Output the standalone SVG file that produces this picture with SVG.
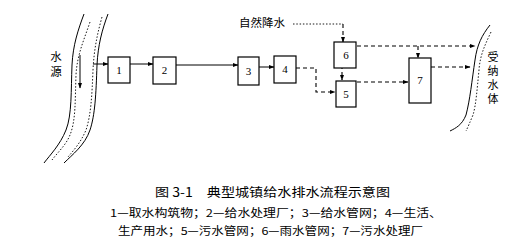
<svg xmlns="http://www.w3.org/2000/svg" width="532" height="247" viewBox="0 0 532 247">
<style>
.box{fill:#fff;stroke:#000;stroke-width:1.2}
.num{font-family:"Liberation Serif",serif;font-size:11px;fill:#000;text-anchor:middle}
.cjk{font-family:"Noto Sans CJK SC","Noto Sans",sans-serif;fill:#000}
.solid{fill:none;stroke:#000;stroke-width:1}
.dash{fill:none;stroke:#000;stroke-width:1.1;stroke-dasharray:4,3}
.dot{fill:none;stroke:#000;stroke-width:0.9;stroke-dasharray:1.5,1.8}
.river{fill:none;stroke:#000;stroke-width:1}
</style>
<defs>
<marker id="ah" markerWidth="6" markerHeight="6" refX="5.5" refY="3" orient="auto" markerUnits="userSpaceOnUse">
<path d="M0,0.8 L6,3 L0,5.2 Z" fill="#000"/>
</marker>
</defs>
<rect width="532" height="247" fill="#fff"/>
<g id="river-source">
<path class="river" d="M84,14 C78,30 73,45 72,65 C71,90 72,115 66,130 C60,145 50,155 44,163"/>
<path class="dot" d="M90,22 C84,40 77,55 76,75 C75,100 76,120 70,135 C66,145 58,152 52,160"/>
<path class="dot" d="M102,17 C97,35 94,50 93,70 C92,95 91,115 86,130 C81,142 74,150 68,157"/>
<path class="river" d="M108,14 C102,30 98,45 97,65 C96,95 95,115 90,130 C85,145 72,155 64,163"/>
<line class="solid" x1="80" y1="55" x2="80" y2="88" marker-end="url(#ah)"/>
<text class="cjk" x="56" y="61" font-size="11.5" text-anchor="middle">水</text>
<text class="cjk" x="56" y="76" font-size="11.5" text-anchor="middle">源</text>
</g>
<g id="river-receiving">
<path class="river" d="M490,25 C482,35 477,45 475,60 C472,80 470,100 466,115 C462,125 456,128 450,131"/>
<path class="dot" d="M491,32 C485,45 480,55 479,70 C477,90 476,105 473,115 C470,122 468,127 466,131"/>
<text class="cjk" x="493" y="51" font-size="11" style="writing-mode:vertical-rl" letter-spacing="3">受纳水体</text>
</g>
<g id="connectors">
<line class="solid" x1="93" y1="64" x2="108" y2="64" marker-end="url(#ah)"/>
<line class="solid" x1="130" y1="64" x2="153" y2="64" marker-end="url(#ah)"/>
<line class="solid" x1="176" y1="65" x2="238" y2="65" marker-end="url(#ah)"/>
<line class="solid" x1="259" y1="67" x2="274" y2="67" marker-end="url(#ah)"/>
<polyline class="dash" points="296,68 316,68 316,92 335,92" marker-end="url(#ah)"/>
<polyline class="dot" points="293,24 343,24"/>
<polyline class="dash" points="343,24 343,42" marker-end="url(#ah)"/>
<line class="dash" x1="342" y1="58" x2="342" y2="80" marker-end="url(#ah)"/>
<line class="dash" x1="357" y1="46" x2="475" y2="46" marker-end="url(#ah)"/>
<line class="dash" x1="418" y1="46" x2="418" y2="58" marker-end="url(#ah)"/>
<line class="dash" x1="357" y1="82" x2="408" y2="82" marker-end="url(#ah)"/>
<line class="dash" x1="431" y1="67" x2="470" y2="67" marker-end="url(#ah)"/>
</g>
<g id="node1"><rect class="box" x="108" y="57" width="22" height="26"/><text class="num" x="119" y="74">1</text></g>
<g id="node2"><rect class="box" x="153" y="57" width="23" height="27"/><text class="num" x="164.5" y="74">2</text></g>
<g id="node3"><rect class="box" x="238" y="57" width="21" height="28"/><text class="num" x="248.5" y="75">3</text></g>
<g id="node4"><rect class="box" x="274" y="56" width="22" height="27"/><text class="num" x="285" y="73">4</text></g>
<g id="node6"><rect class="box" x="334" y="42" width="22" height="26"/><text class="num" x="346" y="59">6</text></g>
<g id="node5"><rect class="box" x="336" y="81" width="20" height="26"/><text class="num" x="346" y="98">5</text></g>
<g id="node7"><rect class="box" x="409" y="58" width="22" height="45"/><text class="num" x="420" y="84">7</text></g>
<g id="label-rain"><text class="cjk" x="239" y="27" font-size="11.5" textLength="46" lengthAdjust="spacingAndGlyphs">自然降水</text></g>
<g id="caption">
<text class="cjk" x="155" y="197" font-size="12.5" textLength="235" lengthAdjust="spacingAndGlyphs">图 3-1　典型城镇给水排水流程示意图</text>
<text class="cjk" x="110" y="217" font-size="11" textLength="332" lengthAdjust="spacingAndGlyphs">1—取水构筑物；2—给水处理厂；3—给水管网；4—生活、</text>
<text class="cjk" x="118" y="235" font-size="11" textLength="305" lengthAdjust="spacingAndGlyphs">生产用水；5—污水管网；6—雨水管网；7—污水处理厂</text>
</g>
</svg>
